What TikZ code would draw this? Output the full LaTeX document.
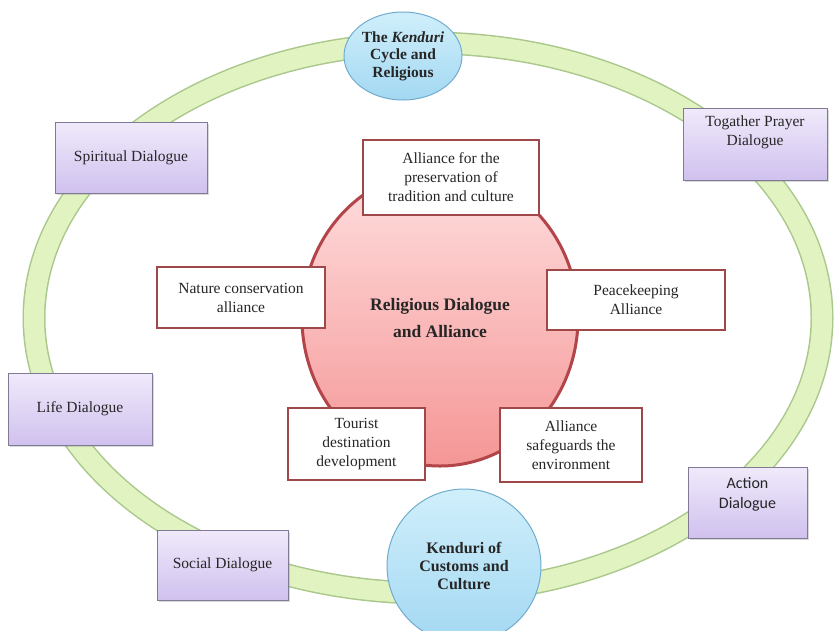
\documentclass[tikz,border=0pt]{standalone}
\usepackage{fontspec}
\setmainfont{Liberation Serif}
\newfontfamily\calibri{Carlito}
\usetikzlibrary{shapes,positioning,shadows}

\definecolor{ringfill}{RGB}{226,243,194}
\definecolor{ringedge}{RGB}{170,200,140}
\definecolor{skyfill}{RGB}{208,239,251}
\definecolor{skydeep}{RGB}{163,216,242}
\definecolor{skyedge}{RGB}{112,172,206}
\definecolor{rosefill}{RGB}{255,222,222}
\definecolor{rosedeep}{RGB}{245,150,150}
\definecolor{roseedge}{RGB}{178,68,74}
\definecolor{lilac}{RGB}{240,234,251}
\definecolor{lilacdeep}{RGB}{208,193,238}
\definecolor{lilacedge}{RGB}{128,122,148}
\definecolor{boxedge}{RGB}{158,72,74}

\tikzstyle{dialog} = [rectangle, draw=lilacedge, line width=1pt, top color=lilac, bottom color=lilacdeep, drop shadow={opacity=0.3, shadow xshift=2pt, shadow yshift=-2pt}, align=center, text=black!85, font=\fontsize{15.5}{19}\selectfont]
\tikzstyle{alliance} = [rectangle, draw=boxedge, line width=1.5pt, fill=white, align=center, text=black!85, font=\fontsize{15.5}{19}\selectfont]
\tikzstyle{kenduri} = [ellipse, draw=skyedge, line width=1pt, top color=skyfill, bottom color=skydeep, align=center, inner sep=0pt, text=black!85]

% text set at the top of a box of fixed height
\newcommand{\toptext}[3]{\parbox[c][#1][t]{#2}{\centering #3}}

\begin{document}
\begin{tikzpicture}[x=1pt, y=-1pt]
\useasboundingbox (0,0) rectangle (835,630);

% outer ring =============================
\draw[ringedge, line width=23pt] (428,318) ellipse [x radius=394pt, y radius=275pt];
\draw[ringfill, line width=20pt] (428,318) ellipse [x radius=394pt, y radius=275pt];

% kenduri ellipses on the ring
\node[kenduri, minimum width=118pt, minimum height=88pt, font=\bfseries\fontsize{15.5}{17.5}\selectfont] (cycle) at (403,56) {The \textit{Kenduri}\\Cycle and\\Religious};
\node[kenduri, minimum width=154pt, minimum height=154pt, font=\bfseries\fontsize{16}{18}\selectfont] (customs) at (464,566) {Kenduri of\\Customs and\\Culture};

% dialogues
\node[dialog, minimum width=152pt, minimum height=71pt] (spirit) at (131,157.5) {Spiritual Dialogue};
\node[dialog, minimum width=144pt, minimum height=72pt] (prayer) at (755,144) {\toptext{56pt}{136pt}{Togather Prayer\\Dialogue}};
\node[dialog, minimum width=144pt, minimum height=72pt] (life) at (80,409) {Life Dialogue};
\node[dialog, minimum width=131pt, minimum height=70pt] (social) at (222.5,565) {Social Dialogue};
\node[dialog, minimum width=119pt, minimum height=71pt, font=\calibri\fontsize{16}{20}\selectfont] (action) at (747.5,502.5) {\toptext{50pt}{110pt}{Action\\Dialogue}};

% centre circle
\node[ellipse, draw=roseedge, line width=3pt, top color=rosefill, bottom color=rosedeep, minimum width=276pt, minimum height=296pt, align=center, text=black!85, font=\bfseries\fontsize{17.5}{27}\selectfont] (religious) at (440,318) {Religious Dialogue\\and Alliance};

% alliances
\node[alliance, minimum width=176pt, minimum height=75pt] (tradition) at (451,177.5) {Alliance for the\\preservation of\\tradition and culture};
\node[alliance, minimum width=168pt, minimum height=61pt] (nature) at (241,297.5) {Nature conservation\\alliance};
\node[alliance, minimum width=178pt, minimum height=60pt] (peace) at (636,300) {Peacekeeping\\Alliance};
\node[alliance, minimum width=137pt, minimum height=72pt] (tourist) at (356.5,444) {Tourist\\destination\\development};
\node[alliance, minimum width=142pt, minimum height=74pt] (environment) at (571,445) {Alliance\\safeguards the\\environment};

\end{tikzpicture}
\end{document}
